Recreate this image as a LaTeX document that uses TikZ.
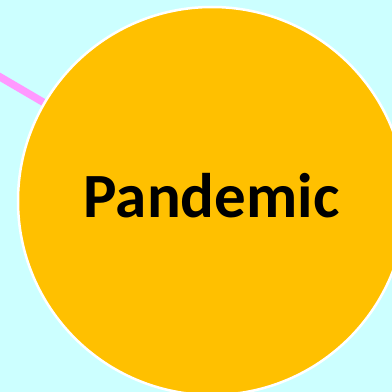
\documentclass[tikz,border=0pt]{standalone}
\usepackage{fontspec}
\setmainfont{Carlito}
\usetikzlibrary{backgrounds}
\definecolor{bgcyan}{HTML}{CCFFFF}
\definecolor{orangefill}{HTML}{FFC000}
\definecolor{pinkline}{HTML}{FF99FF}
\begin{document}
\begin{tikzpicture}[x=1pt,y=1pt,
  bigcircle/.style={circle, fill=orangefill, draw=white, line width=2.5pt, minimum size=388pt, inner sep=0pt},
  link/.style={draw=pinkline, line width=7.5pt},
  label/.style={font=\bfseries\fontsize{63}{63}\selectfont, text=black, anchor=base, inner sep=0pt}]
  \useasboundingbox (0,0) rectangle (392,392);
  \coordinate (start) at (-5,318);
  \node[bigcircle] (pandemic) at (212,191) {};
  \node[label] (txt) at (211.5,174) {Pandemic};
  \begin{pgfonlayer}{background}
    \fill[bgcyan] (0,0) rectangle (392,392);
    \draw[link] (start) -- (pandemic);
  \end{pgfonlayer}
\end{tikzpicture}
\end{document}
